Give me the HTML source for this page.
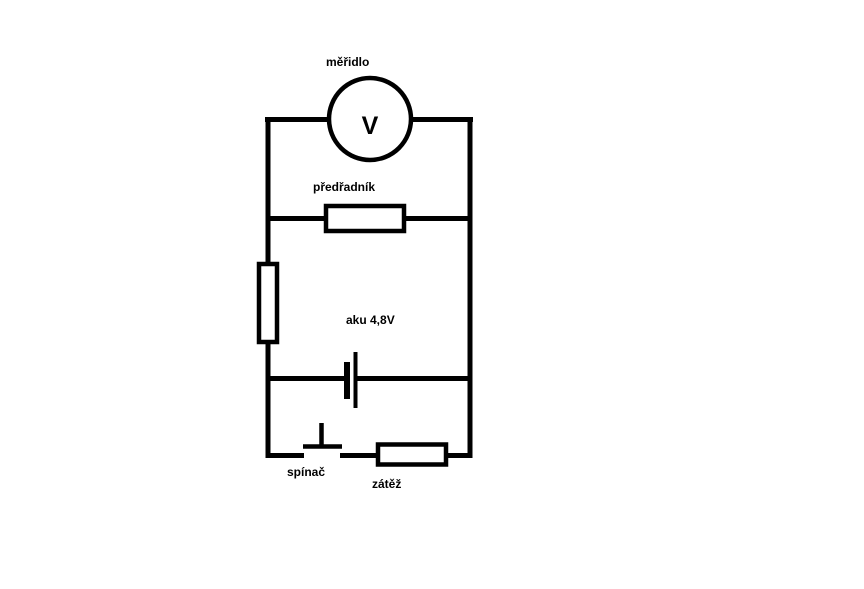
<!DOCTYPE html>
<html><head><meta charset="utf-8"><style>
html,body{margin:0;padding:0;background:#fff;}
svg{display:block;}
text{font-family:"Liberation Sans",sans-serif;font-weight:bold;font-size:12px;fill:#000;}
</style></head><body>
<svg width="864" height="589" viewBox="0 0 864 589" xmlns="http://www.w3.org/2000/svg">
<g stroke="#000" stroke-width="5" fill="none">
<line x1="265" y1="119.5" x2="329" y2="119.5"/>
<line x1="411" y1="119.5" x2="473" y2="119.5"/>
<circle cx="370" cy="119" r="41" stroke-width="4.5"/>
<line x1="268" y1="117" x2="268" y2="263"/>
<line x1="268" y1="343" x2="268" y2="458"/>
<line x1="470" y1="117" x2="470" y2="458"/>
<line x1="268" y1="218.5" x2="326" y2="218.5"/>
<line x1="404" y1="218.5" x2="470" y2="218.5"/>
<rect x="326" y="206" width="78" height="25" stroke-width="4.5"/>
<rect x="259" y="264" width="18" height="78" stroke-width="4.5"/>
<line x1="268" y1="378.5" x2="346" y2="378.5"/>
<line x1="355" y1="378.5" x2="470" y2="378.5"/>
<line x1="347" y1="362" x2="347" y2="399" stroke-width="6"/>
<line x1="355.5" y1="352" x2="355.5" y2="408" stroke-width="4"/>
<line x1="266" y1="455.5" x2="304" y2="455.5"/>
<line x1="340" y1="455.5" x2="378" y2="455.5"/>
<line x1="446" y1="455.5" x2="472" y2="455.5"/>
<line x1="303" y1="446.5" x2="342" y2="446.5" stroke-width="4.5"/>
<line x1="321.5" y1="423" x2="321.5" y2="446" stroke-width="4.5"/>
<rect x="378" y="444.5" width="68" height="20" stroke-width="4.5"/>
</g>
<text x="326" y="66">měřidlo</text>
<text x="370" y="134" text-anchor="middle" style="font-size:25px">V</text>
<text x="313" y="191">předřadník</text>
<text x="346" y="324">aku 4,8V</text>
<text x="287" y="476">spínač</text>
<text x="372" y="488">zátěž</text>
</svg>
</body></html>
